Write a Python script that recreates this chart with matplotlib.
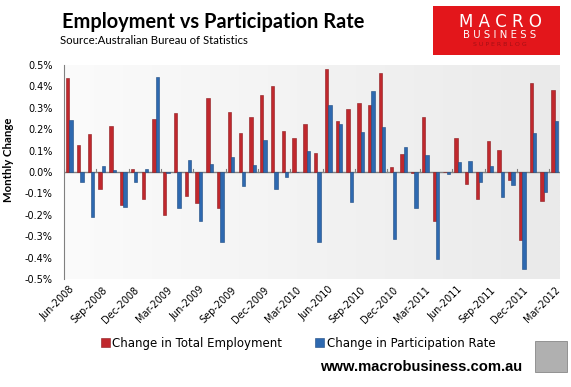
import matplotlib
matplotlib.use("Agg")
import matplotlib.pyplot as plt
import numpy as np
from matplotlib.patches import Rectangle
from matplotlib.colors import LinearSegmentedColormap

months = ["Jun-2008","Jul-2008","Aug-2008","Sep-2008","Oct-2008","Nov-2008","Dec-2008",
          "Jan-2009","Feb-2009","Mar-2009","Apr-2009","May-2009","Jun-2009","Jul-2009",
          "Aug-2009","Sep-2009","Oct-2009","Nov-2009","Dec-2009","Jan-2010","Feb-2010",
          "Mar-2010","Apr-2010","May-2010","Jun-2010","Jul-2010","Aug-2010","Sep-2010",
          "Oct-2010","Nov-2010","Dec-2010","Jan-2011","Feb-2011","Mar-2011","Apr-2011",
          "May-2011","Jun-2011","Jul-2011","Aug-2011","Sep-2011","Oct-2011","Nov-2011",
          "Dec-2011","Jan-2012","Feb-2012","Mar-2012"]

employment = [0.44, 0.126, 0.177, -0.078, 0.214, -0.153, 0.016, -0.126, 0.246, -0.200,
              0.274, -0.112, -0.147, 0.347, -0.170, 0.282, 0.184, 0.259, 0.358, 0.403,
              0.192, 0.161, 0.222, 0.087, 0.482, 0.236, 0.296, 0.324, 0.315, 0.464,
              0.025, 0.084, -0.006, 0.256, -0.229, -0.002, 0.157, -0.054, -0.124, 0.143,
              0.104, -0.036, -0.319, 0.417, -0.136, 0.381]

participation = [0.243, -0.045, -0.209, 0.026, 0.009, -0.163, -0.045, 0.016, 0.442, -0.003,
                 -0.170, 0.054, -0.229, 0.036, -0.326, 0.068, -0.064, 0.031, 0.150, -0.078,
                 -0.022, 0.002, 0.096, -0.326, 0.313, 0.225, -0.138, 0.189, 0.380, 0.208,
                 -0.315, 0.119, -0.167, 0.078, -0.408, -0.010, 0.048, 0.050, -0.048, 0.026,
                 -0.119, -0.062, -0.454, 0.184, -0.095, 0.236]

yticks = [0.5, 0.4, 0.3, 0.2, 0.1, 0.0, -0.1, -0.2, -0.3, -0.4, -0.5]

W, H = 571, 387
fig = plt.figure(figsize=(W/100, H/100), dpi=100)
fig.patch.set_facecolor("white")

ax = fig.add_axes([64/W, 1-279/H, (560-64)/W, (279-65)/H])
x = np.arange(len(months))

grad = np.linspace(0, 1, 256).reshape(1, -1)
cmap = LinearSegmentedColormap.from_list("bg", ["#fbfbfb", "#eaeaea"])
ax.imshow(grad, extent=[-0.5, len(months)-0.5, -0.5, 0.5], aspect="auto", cmap=cmap, zorder=0)

bw = 0.31
ax.bar(x - bw/2, employment, width=bw, color="#c0282d", edgecolor="#8c1a1e", linewidth=0.4, zorder=3,
       label="Change in Total Employment")
ax.bar(x + bw/2, participation, width=bw, color="#2e69b0", edgecolor="#1d4a80", linewidth=0.4, zorder=3,
       label="Change in Participation Rate")

ax.axhline(0, color="#808080", linewidth=1.0, zorder=2)
for k in range(0, len(months)+1, 3):
    ax.plot([k-0.5, k-0.5], [0, 0.012], color="#808080", linewidth=0.8, zorder=2)

ax.set_xlim(-0.5, len(months)-0.5)
ax.set_ylim(-0.5, 0.5)
ax.set_yticks(yticks)
ax.set_yticklabels([f"{v:.1f}%" for v in yticks], fontsize=7)
tick_pos = x[::3]
ax.set_xticks(tick_pos)
ax.set_xticklabels([months[i] for i in tick_pos], rotation=45, ha="right", rotation_mode="anchor", fontsize=7)
ax.tick_params(axis="x", length=0, pad=4)
ax.tick_params(axis="y", length=0, pad=8)
for s in ["top", "right", "bottom"]:
    ax.spines[s].set_visible(False)
ax.spines["left"].set_color("#808080")
ax.set_ylabel("Monthly Change", fontsize=8.2, fontweight="bold", family="Lato")
ax.yaxis.set_label_coords((14.5-64)/496, (279-160)/214)

# title
fig.text(62/W, 1-22/H, "Employment vs Participation Rate", fontsize=14.4, fontweight="bold",
         family="Lato", va="center", ha="left")
fig.text(60/W, 1-40/H, "Source:Australian Bureau of Statistics", fontsize=8.2, family="Lato",
         va="center", ha="left")

# logo
logo = Rectangle((433/W, 1-55/H), 127/W, 49/H, transform=fig.transFigure, facecolor="#e3161b", edgecolor="none")
fig.patches.append(logo)
fig.text(500/W, 1-21.7/H, "M A C R O", fontsize=12, color="white", ha="center", va="center")
fig.text(500/W, 1-35/H, "B U S I N E S S", fontsize=7.3, color="white", ha="center", va="center")
fig.text(500/W, 1-44.5/H, "S U P E R B L O G", fontsize=4.5, color="#a51015", ha="center", va="center")

# legend
handles, labels = ax.get_legend_handles_labels()
fig.legend(handles, labels, loc="center", bbox_to_anchor=(298/W, 1-343.3/H), ncol=2, frameon=False,
           fontsize=8.5, handlelength=0.76, handleheight=0.76, columnspacing=2.8, handletextpad=0.22)

fig.text(320/W, 1-367/H, "www.macrobusiness.com.au", fontsize=10.6, fontweight="bold",
         family="Liberation Sans", ha="left", va="center")
wolf = Rectangle((535/W, 1-372/H), 32/W, 31/H, transform=fig.transFigure, facecolor="#b0b0b0", edgecolor="#888888", linewidth=0.6)
fig.patches.append(wolf)

fig.savefig("out.png", dpi=100)
